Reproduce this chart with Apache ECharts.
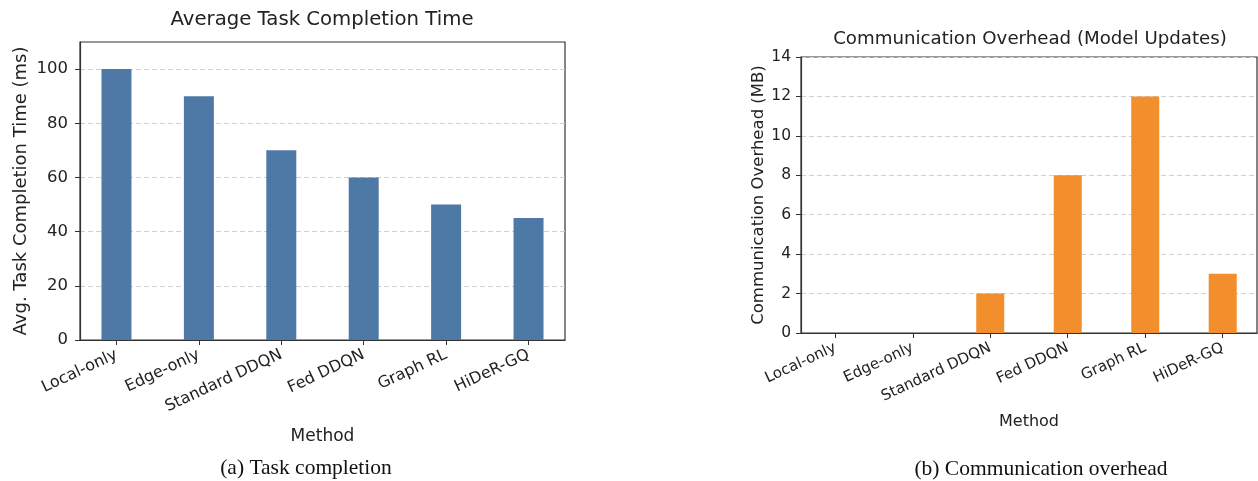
<!DOCTYPE html>
<html><head><meta charset="utf-8">
<script src="https://cdn.jsdelivr.net/npm/echarts@6/dist/echarts.min.js"></script>
<style>html,body{margin:0;padding:0;background:#fff}#c{width:1258px;height:481px}</style>
</head><body><div id="c"></div>
<script>
const categories = ['Local-only', 'Edge-only', 'Standard DDQN', 'Fed DDQN', 'Graph RL', 'HiDeR-GQ'];
const completionTime = [100, 90, 70, 60, 50, 45];
const commOverhead = [0, 0, 2, 8, 12, 3];
const leftYTicks = [0, 20, 40, 60, 80, 100];
const rightYTicks = [0, 2, 4, 6, 8, 10, 12, 14];

const FONT = '"DejaVu Sans", sans-serif';
const SERIF = '"Liberation Serif", "DejaVu Serif", serif';
const idx = categories.map((_, i) => i);

function xAxis(gridIndex, fs, nfs, nameGap) {
  return {
    type: 'value', gridIndex, min: -0.4425, max: 5.4425,
    name: 'Method', nameLocation: 'middle', nameGap,
    nameTextStyle: { fontFamily: FONT, fontSize: nfs, color: '#222' },
    axisLine: { show: true, onZero: false, lineStyle: { color: '#333', width: 1.2 } },
    axisTick: { show: true, customValues: idx, length: 5, lineStyle: { color: '#333' } },
    axisLabel: { customValues: idx, rotate: 25, fontFamily: FONT, fontSize: fs, color: '#222', margin: 14,
      formatter: v => categories[Math.round(v)] },
    splitLine: { show: false }
  };
}
function yAxis(gridIndex, max, ticks, name, fs, nfs, nameGap, margin) {
  return {
    type: 'value', gridIndex, min: 0, max,
    name, nameLocation: 'middle', nameGap,
    nameTextStyle: { fontFamily: FONT, fontSize: nfs, color: '#222' },
    axisLine: { show: true, onZero: false, lineStyle: { color: '#333', width: 1.2 } },
    axisTick: { show: true, customValues: ticks, length: 5, lineStyle: { color: '#333' } },
    axisLabel: { customValues: ticks, fontFamily: FONT, fontSize: fs, color: '#222', margin },
    splitLine: { show: true, lineStyle: { type: [5, 3], color: '#cfcfcf', width: 1 } }
  };
}

const chart = echarts.init(document.getElementById('c'), null, { renderer: 'canvas' });
chart.setOption({
  animation: false,
  backgroundColor: '#fff',
  title: [
    { text: 'Average Task Completion Time', left: 317, top: 5, textAlign: 'center',
      textStyle: { fontFamily: FONT, fontSize: 19.7, fontWeight: 'normal', color: '#222' } },
    { text: 'Communication Overhead (Model Updates)', left: 1025, top: 25, textAlign: 'center',
      textStyle: { fontFamily: FONT, fontSize: 18.2, fontWeight: 'normal', color: '#222' } },
    { text: '(a) Task completion', left: 301, top: 452, textAlign: 'center',
      textStyle: { fontFamily: SERIF, fontSize: 21.5, fontWeight: 'normal', color: '#111' } },
    { text: '(b) Communication overhead', left: 1036, top: 453, textAlign: 'center',
      textStyle: { fontFamily: SERIF, fontSize: 21.5, fontWeight: 'normal', color: '#111' } }
  ],
  grid: [
    { left: 80, top: 42, width: 485, height: 298, show: true, borderColor: '#333', borderWidth: 1.2, backgroundColor: 'transparent' },
    { left: 801, top: 57, width: 456, height: 276, show: true, borderColor: '#333', borderWidth: 1.2, backgroundColor: 'transparent' }
  ],
  xAxis: [xAxis(0, 16, 17, 88), xAxis(1, 15, 16, 81)],
  yAxis: [
    yAxis(0, 110, leftYTicks, 'Avg. Task Completion Time (ms)', 16.5, 18, 50, 12),
    yAxis(1, 14, rightYTicks, 'Communication Overhead (MB)', 15.5, 16.5, 28, 10)
  ],
  series: [
    { type: 'bar', xAxisIndex: 0, yAxisIndex: 0, barWidth: 30,
      data: completionTime.map((v, i) => [i, v]),
      itemStyle: { color: '#4e79a7' } },
    { type: 'bar', xAxisIndex: 1, yAxisIndex: 1, barWidth: 28,
      data: commOverhead.map((v, i) => [i, v]),
      itemStyle: { color: '#f28e2b' } }
  ]
});
</script></body></html>
